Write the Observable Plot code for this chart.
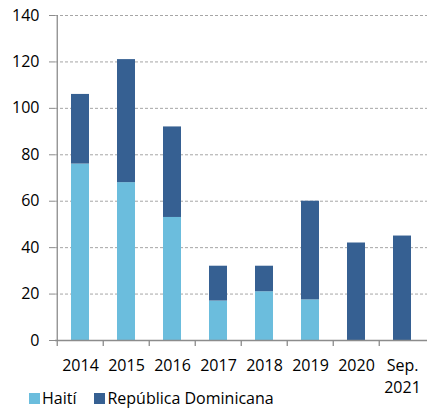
<!DOCTYPE html>
<html>
<head>
<meta charset="utf-8">
<script src="https://cdn.jsdelivr.net/npm/d3@7"></script>
<script src="https://cdn.jsdelivr.net/npm/@observablehq/plot@0.6"></script>
<style>
  html, body { margin: 0; padding: 0; background: #fff; }
  body { min-height: 409px; }
  #chart svg { display: block; }
  .legend { position: relative; display: flex; align-items: center; font-family: "Open Sans", sans-serif; font-size: 16px; line-height: 18px; color: #000; height: 18px; padding-left: 29px; margin-top: -11px; }
  .legend .sw { width: 11px; height: 11px; display: inline-block; margin-right: 2px; flex: none; }
  .legend .item { display: flex; align-items: center; margin-right: 18px; }
</style>
</head>
<body>
<div id="chart"></div>
<script>
const categories = ["2014", "2015", "2016", "2017", "2018", "2019", "2020", "Sep.\n2021"];
const series = ["Haití", "República Dominicana"];
const haiti = [76, 68, 53, 17, 21, 17.5, 0, 0];
const dominicana = [30, 53, 39, 15, 11, 42.5, 42, 45];
const yTicks = [0, 20, 40, 60, 80, 100, 120, 140];
const colors = ["#6bbddd", "#366092"];

const data = [];
categories.forEach((c, i) => {
  data.push({cat: c, serie: series[0], value: haiti[i]});
  data.push({cat: c, serie: series[1], value: dominicana[i]});
});

const W = 429, H = 400, ML = 55, MR = 2, MT = 15, MB = 60;
const step = (W - ML - MR) / categories.length;
const font = "'Open Sans', sans-serif";

const chart = Plot.plot({
  width: W,
  height: H,
  marginLeft: ML,
  marginRight: MR,
  marginTop: MT,
  marginBottom: MB,
  style: {fontFamily: font, fontSize: "16px", color: "#000", background: "#fff"},
  x: {domain: categories, padding: 0, axis: null},
  y: {domain: [0, 140], axis: null},
  color: {domain: series, range: colors},
  marks: [
    Plot.ruleY(yTicks.filter(d => d > 0), {stroke: "#a6a6a6", strokeDasharray: "3,2", strokeWidth: 1}),
    Plot.barY(data, {x: "cat", y: "value", fill: "serie", insetLeft: 14, insetRight: 14}),
    Plot.ruleY([0], {stroke: "#8c8c8c", strokeWidth: 1.3}),
    Plot.ruleX([categories[0]], {dx: -step / 2, y1: 0, y2: 140, stroke: "#8c8c8c", strokeWidth: 1.3}),
    Plot.ruleX(categories, {dx: -step / 2, y1: 0, y2: -2.6, stroke: "#8c8c8c", strokeWidth: 1.3}),
    Plot.axisY({ticks: yTicks, tickSize: 6, tickPadding: 10, stroke: "#8c8c8c", fill: "#000", fontSize: 16, label: null}),
    Plot.axisX({tickSize: 0, tickPadding: 15, fill: "#000", fontSize: 16, lineHeight: 1.37, label: null})
  ]
});
document.getElementById("chart").appendChild(chart);

const legend = document.createElement("div");
legend.className = "legend";
series.forEach((s, i) => {
  const item = document.createElement("span");
  item.className = "item";
  const sw = document.createElement("span");
  sw.className = "sw";
  sw.style.background = colors[i];
  item.appendChild(sw);
  item.appendChild(document.createTextNode(s));
  legend.appendChild(item);
});
document.body.appendChild(legend);
</script>
</body>
</html>
